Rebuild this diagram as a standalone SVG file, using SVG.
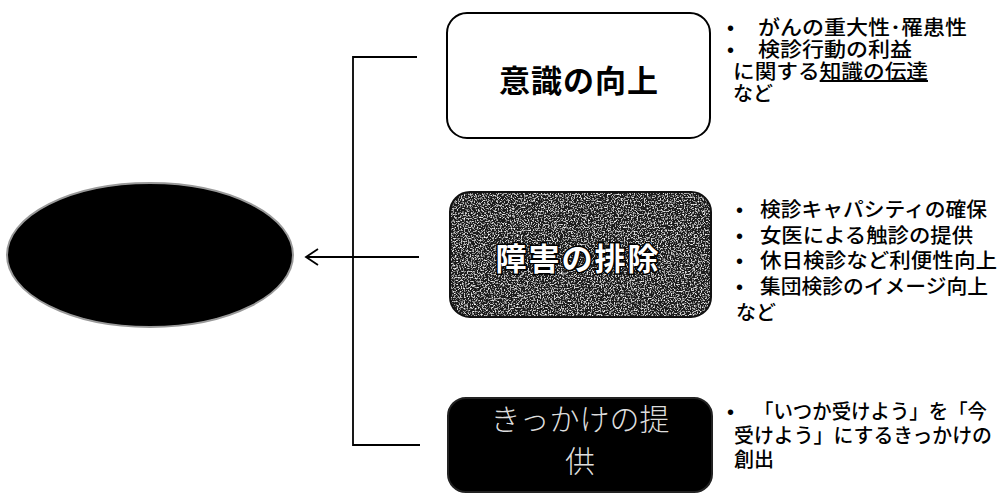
<svg xmlns="http://www.w3.org/2000/svg" width="1000" height="494" viewBox="0 0 1000 494">
<style>
.jp{font-family:"Noto Sans CJK JP","Noto Sans CJK SC",sans-serif;}
.note{font-size:20px;font-weight:500;fill:#000;}
.bul{font-family:"Liberation Sans",sans-serif;font-size:20px;fill:#000;}
.ln{stroke:#000;stroke-width:1.8;fill:none;}
</style>
<defs>
<filter id="noise" x="0" y="0" width="100%" height="100%">
<feTurbulence type="fractalNoise" baseFrequency="0.7" numOctaves="2" seed="5" result="t"/>
<feColorMatrix in="t" type="matrix" values="0 0 0 0 1  0 0 0 0 1  0 0 0 0 1  3.2 0 0 0 -1.6" result="w"/>
<feComposite in="w" in2="SourceGraphic" operator="atop"/>
</filter>
</defs>
<rect width="1000" height="494" fill="#fff"/>

<g id="goal">
<ellipse cx="150" cy="255" rx="143" ry="72" fill="#000" stroke="#999" stroke-width="2"/>
</g>

<g id="connectors">
<path class="ln" d="M417,57 H353 V445 H420"/>
<path class="ln" d="M419,257 H307"/>
<path class="ln" d="M318,249 L306,257 L318,265"/>
</g>

<g id="awareness">
<rect x="447" y="13" width="263" height="125" rx="20" fill="#fff" stroke="#000" stroke-width="2"/>
<text class="jp" x="579" y="92" text-anchor="middle" font-size="31" font-weight="bold" letter-spacing="1">意識の向上</text>
</g>

<g id="barrier">
<rect x="450" y="192" width="261" height="125" rx="20" fill="#1e1e1e" filter="url(#noise)"/>
<rect x="450" y="192" width="261" height="125" rx="20" fill="none" stroke="#111" stroke-width="2"/>
<text class="jp" x="578" y="270" text-anchor="middle" font-size="31" font-weight="bold" letter-spacing="2" fill="#fff" stroke="#000" stroke-width="3" paint-order="stroke">障害の排除</text>
</g>

<g id="trigger">
<rect x="448" y="398" width="264" height="94" rx="18" fill="#000" stroke="#222" stroke-width="2"/>
<text class="jp" x="580" y="430" text-anchor="middle" font-size="30" font-weight="300" fill="#ddd">きっかけの提</text>
<text class="jp" x="580" y="472" text-anchor="middle" font-size="30" font-weight="300" fill="#ddd">供</text>
</g>

<g id="note-awareness">
<text class="bul" x="727" y="35">•</text>
<text class="jp note" x="758" y="35" textLength="209" lengthAdjust="spacingAndGlyphs">がんの重大性･罹患性</text>
<text class="bul" x="727" y="57">•</text>
<text class="jp note" x="758" y="57" textLength="154" lengthAdjust="spacingAndGlyphs">検診行動の利益</text>
<text class="jp note" x="733" y="79" textLength="195" lengthAdjust="spacingAndGlyphs">に関する<tspan text-decoration="underline">知識の伝達</tspan></text>
<text class="jp note" x="733" y="101">など</text>
</g>

<g id="note-barrier">
<text class="bul" x="736" y="217">•</text>
<text class="jp note" x="760" y="217" textLength="227" lengthAdjust="spacingAndGlyphs">検診キャパシティの確保</text>
<text class="bul" x="736" y="243">•</text>
<text class="jp note" x="760" y="243" textLength="213" lengthAdjust="spacingAndGlyphs">女医による触診の提供</text>
<text class="bul" x="736" y="268">•</text>
<text class="jp note" x="760" y="268" textLength="237" lengthAdjust="spacingAndGlyphs">休日検診など利便性向上</text>
<text class="bul" x="736" y="294">•</text>
<text class="jp note" x="760" y="294" textLength="228" lengthAdjust="spacingAndGlyphs">集団検診のイメージ向上</text>
<text class="jp note" x="736" y="320">など</text>
</g>

<g id="note-trigger">
<text class="bul" x="727" y="419">•</text>
<text class="jp note" x="754" y="419" textLength="233" lengthAdjust="spacingAndGlyphs">「いつか受けよう」を「今</text>
<text class="jp note" x="734" y="443" textLength="258" lengthAdjust="spacingAndGlyphs">受けよう」にするきっかけの</text>
<text class="jp note" x="734" y="467">創出</text>
</g>
</svg>
